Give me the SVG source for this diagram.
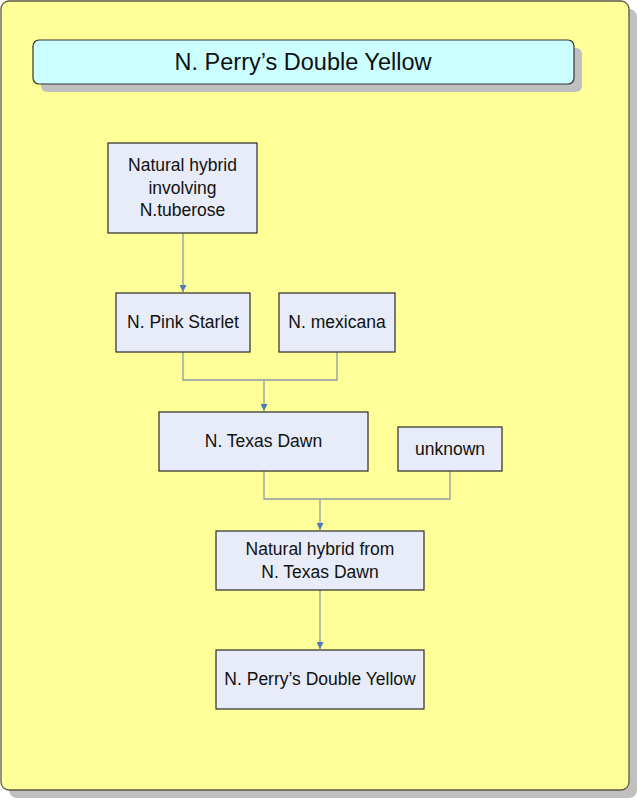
<svg xmlns="http://www.w3.org/2000/svg" width="637" height="800" viewBox="0 0 637 800">
<defs>
<style>
.node rect{fill:#e7ecf8;stroke:#2b2b2b;stroke-width:1.2}
.node text{font-family:"Liberation Sans",Arial,sans-serif;font-size:17.5px;fill:#111;text-anchor:middle;dominant-baseline:central}
.conn{fill:none;stroke:#8d9ba6;stroke-width:1.3}
</style>
<marker id="ah" viewBox="0 0 8 8" refX="8" refY="4" markerWidth="7" markerHeight="7" markerUnits="userSpaceOnUse" orient="auto">
<path d="M0,0 L8,4 L0,8 z" fill="#4f79b8"/>
</marker>
</defs>
<g id="background">
<rect x="9" y="9" width="628" height="789" rx="8" fill="#c0c0c0"/>
<rect x="1" y="1" width="628" height="789" rx="8" fill="#ffff99" stroke="#5a5a40" stroke-width="1.3"/>
</g>
<g id="title">
<rect x="41" y="48" width="541" height="44" rx="6" fill="#c0c0c0"/>
<rect x="33" y="40" width="541" height="44" rx="6" fill="#ccffff" stroke="#333" stroke-width="1.2"/>
<text x="303" y="62" font-family="'Liberation Sans',Arial,sans-serif" font-size="23.5" fill="#111" text-anchor="middle" dominant-baseline="central">N. Perry’s Double Yellow</text>
</g>
<g id="connectors">
<path class="conn" d="M183,233 V292" marker-end="url(#ah)"/>
<path class="conn" d="M183,352 V380 H337 V352"/>
<path class="conn" d="M264,380 V411" marker-end="url(#ah)"/>
<path class="conn" d="M264,471 V499 H450 V471"/>
<path class="conn" d="M320,499 V530" marker-end="url(#ah)"/>
<path class="conn" d="M320,590 V649" marker-end="url(#ah)"/>
</g>
<g id="n1" class="node">
<rect x="108" y="143" width="149" height="90"/>
<text x="182.5" y="165">Natural hybrid</text>
<text x="182.5" y="188">involving</text>
<text x="182.5" y="210">N.tuberose</text>
</g>
<g id="n2" class="node">
<rect x="116" y="293" width="134" height="59"/>
<text x="183" y="322">N. Pink Starlet</text>
</g>
<g id="n3" class="node">
<rect x="279" y="293" width="116" height="59"/>
<text x="337" y="322">N. mexicana</text>
</g>
<g id="n4" class="node">
<rect x="159" y="412" width="209" height="59"/>
<text x="263.5" y="441">N. Texas Dawn</text>
</g>
<g id="n5" class="node">
<rect x="398" y="427" width="104" height="44"/>
<text x="450" y="449">unknown</text>
</g>
<g id="n6" class="node">
<rect x="216" y="531" width="208" height="59"/>
<text x="320" y="549">Natural hybrid from</text>
<text x="320" y="572">N. Texas Dawn</text>
</g>
<g id="n7" class="node">
<rect x="216" y="650" width="208" height="59"/>
<text x="320" y="679">N. Perry’s Double Yellow</text>
</g>
</svg>
